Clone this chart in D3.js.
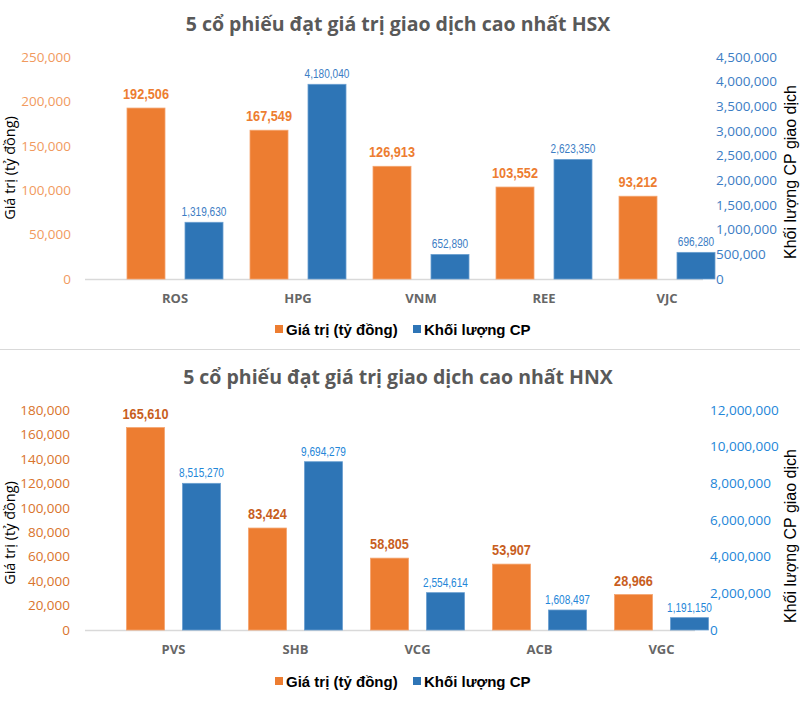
<!DOCTYPE html>
<html><head><meta charset="utf-8">
<script src="https://cdn.jsdelivr.net/npm/d3@7/dist/d3.min.js"></script>
<style>body{margin:0;background:#fff}svg{display:block}</style>
</head><body>
<script>
// ---- data ----
const hsxStocks = ["ROS","HPG","VNM","REE","VJC"];
const hsxValue = [192506,167549,126913,103552,93212];
const hsxVolume = [1319630,4180040,652890,2623350,696280];
const hsxValueTicks = [0,50000,100000,150000,200000,250000];
const hsxVolumeTicks = [0,500000,1000000,1500000,2000000,2500000,3000000,3500000,4000000,4500000];

const hnxStocks = ["PVS","SHB","VCG","ACB","VGC"];
const hnxValue = [165610,83424,58805,53907,28966];
const hnxVolume = [8515270,9694279,2554614,1608497,1191150];
const hnxValueTicks = [0,20000,40000,60000,80000,100000,120000,140000,160000,180000];
const hnxVolumeTicks = [0,2000000,4000000,6000000,8000000,10000000,12000000];

const seriesNames = ["Giá trị (tỷ đồng)","Khối lượng CP"];
const leftTitle = "Giá trị (tỷ đồng)";
const rightTitle = "Khối lượng CP giao dịch";

const W=800,H=719;
const svg=d3.select("body").append("svg").attr("width",W).attr("height",H);
const fmt=d3.format(",");

svg.append("line").attr("x1",0).attr("x2",W).attr("y1",349.5).attr("y2",349.5)
  .attr("stroke","#d9d9d9").attr("stroke-width",1);

function drawChart(o){
  const g=svg.append("g");
  const yL=d3.scaleLinear().domain([0,d3.max(o.lt)]).range([o.base,o.top]);
  const yR=d3.scaleLinear().domain([0,d3.max(o.rt)]).range([o.base,o.top]);
  const yBar=d3.scaleLinear().domain(o.barDomain).range([o.base,o.top]);
  const x=d3.scaleBand().domain(o.cats).range(o.xr).paddingInner(0).paddingOuter(0);
  // title
  g.append("text").attr("x",398).attr("y",o.titleY).attr("text-anchor","middle")
    .attr("font-family","Open Sans").attr("font-weight","bold").attr("font-size",19.5)
    .attr("fill","#595959").text(o.title);
  // left axis
  const la=g.append("g").attr("transform",`translate(${o.leftX},0)`)
    .call(d3.axisLeft(yL).tickValues(o.lt).tickFormat(fmt).tickSize(0).tickPadding(0));
  la.select(".domain").remove();
  la.selectAll("text").attr("font-family","Open Sans").attr("font-size",13.5).attr("fill",o.ltColor);
  // right axis
  const ra=g.append("g").attr("transform",`translate(${o.rightX},0)`)
    .call(d3.axisRight(yR).tickValues(o.rt).tickFormat(fmt).tickSize(0).tickPadding(0));
  ra.select(".domain").remove();
  ra.selectAll("text").attr("font-family","Open Sans").attr("font-size",13.5).attr("fill",o.rtColor);
  // baseline
  g.append("line").attr("x1",85).attr("x2",o.lineEnd).attr("y1",o.base+0.5).attr("y2",o.base+0.5)
    .attr("stroke","#d9d9d9").attr("stroke-width",1.5);
  // bars
  const bw=o.bw;
  g.selectAll(".bo").data(o.cats).join("rect")
    .attr("x",d=>x(d)+x.bandwidth()/2-o.off-bw/2).attr("width",bw)
    .attr("y",(d,i)=>yL(o.v1[i])).attr("height",(d,i)=>o.base-yL(o.v1[i]))
    .attr("fill","#ED7D31").attr("stroke","#F4A46E").attr("stroke-width",0.8);
  g.selectAll(".bb").data(o.cats).join("rect")
    .attr("x",d=>x(d)+x.bandwidth()/2+o.off-bw/2).attr("width",bw)
    .attr("y",(d,i)=>yBar(o.v2[i])).attr("height",(d,i)=>o.base-yBar(o.v2[i]))
    .attr("fill","#2E75B6").attr("stroke","#6A9FD0").attr("stroke-width",0.8);
  // labels (condensed via horizontal scale)
  g.selectAll(".lo").data(o.cats).join("text")
    .attr("transform",(d,i)=>`translate(${x(d)+x.bandwidth()/2-o.off},${yL(o.v1[i])-9}) scale(0.82,1)`)
    .attr("text-anchor","middle").attr("font-family","Liberation Sans")
    .attr("font-weight","bold").attr("font-size",15.5).attr("fill",o.l1Color)
    .text((d,i)=>fmt(o.v1[i]));
  g.selectAll(".lb").data(o.cats).join("text")
    .attr("transform",(d,i)=>`translate(${x(d)+x.bandwidth()/2+o.off},${yBar(o.v2[i])-6}) scale(0.84,1)`)
    .attr("text-anchor","middle").attr("font-family","Liberation Sans")
    .attr("font-size",12).attr("fill",o.l2Color)
    .text((d,i)=>fmt(o.v2[i]));
  // categories
  g.selectAll(".cat").data(o.cats).join("text")
    .attr("x",d=>x(d)+x.bandwidth()/2).attr("y",o.base+24)
    .attr("text-anchor","middle").attr("font-family","Open Sans").attr("font-weight","bold")
    .attr("font-size",13).attr("fill","#666").text(d=>d);
  // axis titles
  g.append("text").attr("transform",`translate(15,${o.ltY}) rotate(-90)`).attr("text-anchor","middle")
    .attr("font-family","Open Sans").attr("font-size",14.5).attr("fill","#000").text(leftTitle);
  g.append("text").attr("transform",`translate(796,${o.rtY}) rotate(-90)`).attr("text-anchor","middle")
    .attr("font-family","Liberation Sans").attr("font-size",16).attr("fill","#000").text(rightTitle);
  // legend
  const lg=g.append("g");
  const items=[{x:275,c:"#ED7D31"},{x:413,c:"#2E75B6"}];
  items.forEach((it,i)=>{
    lg.append("rect").attr("x",it.x).attr("y",o.legY-5).attr("width",8).attr("height",8).attr("fill",it.c);
    lg.append("text").attr("x",it.x+11).attr("y",o.legY+5).attr("font-family","Liberation Sans")
      .attr("font-weight","bold").attr("font-size",15).attr("fill","#000").text(seriesNames[i]);
  });
}

drawChart({title:"5 cổ phiếu đạt giá trị giao dịch cao nhất HSX",titleY:31,
  cats:hsxStocks,v1:hsxValue,v2:hsxVolume,lt:hsxValueTicks,rt:hsxVolumeTicks,
  base:279,top:57,barDomain:[144000,4746000],xr:[113.5,728.5],bw:38,off:29,
  leftX:71,rightX:716,lineEnd:703,
  ltColor:"#F19A5E",rtColor:"#3C7DC4",l1Color:"#ED7D31",l2Color:"#3C7DC4",
  ltY:168,rtY:172,legY:330});

drawChart({title:"5 cổ phiếu đạt giá trị giao dịch cao nhất HNX",titleY:384,
  cats:hnxStocks,v1:hnxValue,v2:hnxVolume,lt:hnxValueTicks,rt:hnxVolumeTicks,
  base:630,top:410,barDomain:[518000,12514000],xr:[112.5,722.5],bw:38,off:28,
  leftX:70,rightX:710,lineEnd:695,
  ltColor:"#D9742C",rtColor:"#2386D8",l1Color:"#C85E1E",l2Color:"#2386D8",
  ltY:533,rtY:536,legY:682});
</script>
</body></html>
